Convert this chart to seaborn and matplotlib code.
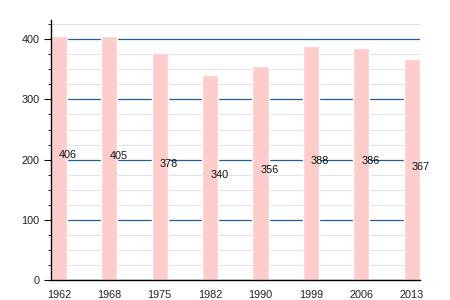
import matplotlib
matplotlib.use("Agg")
import matplotlib.pyplot as plt
from matplotlib.ticker import MultipleLocator
import seaborn as sns
import pandas as pd

years = ["1962", "1968", "1975", "1982", "1990", "1999", "2006", "2013"]
population = [406, 405, 378, 340, 356, 388, 386, 367]

sns.set_theme(style="white")
plt.rcParams['font.family'] = ['Liberation Sans', 'DejaVu Sans']

df = pd.DataFrame({"year": years, "pop": population})

fig = plt.figure(figsize=(4.5, 3), dpi=100)
ax = fig.add_axes([0.113, 0.0667, 0.82, 0.8666])

sns.barplot(data=df, x="year", y="pop", color="#ffcccc", saturation=1,
            width=0.32, ax=ax, zorder=2)

ax.set_xlim(-0.16, 7.16)
ax.set_ylim(0, 432)
ax.yaxis.set_major_locator(MultipleLocator(100))
ax.yaxis.set_minor_locator(MultipleLocator(25))
ax.grid(which="minor", axis="y", color="#e2e2e2", linewidth=0.8, zorder=0)
ax.grid(which="major", axis="y", color="#1f5f9f", linewidth=0.9, zorder=1)
ax.set_axisbelow(True)

for i, v in enumerate(population):
    ax.text(i, v / 2 + 4, str(v), ha="left", va="center", fontsize=7.8,
            color="#111111", zorder=5)

for s in ["top", "right"]:
    ax.spines[s].set_visible(False)
for s in ["left", "bottom"]:
    ax.spines[s].set_color("black")
    ax.spines[s].set_linewidth(1.0)

ax.tick_params(axis="y", which="major", left=True, length=5, width=0.8,
               color="black", labelsize=7.8, labelcolor="#222222", pad=3)
ax.tick_params(axis="y", which="minor", left=True, length=2.5, width=0.6,
               color="black")
ax.tick_params(axis="x", bottom=False, labelsize=7.8, labelcolor="#222222", pad=1)
ax.set_xlabel("")
ax.set_ylabel("")

fig.savefig("out.png", dpi=100)
